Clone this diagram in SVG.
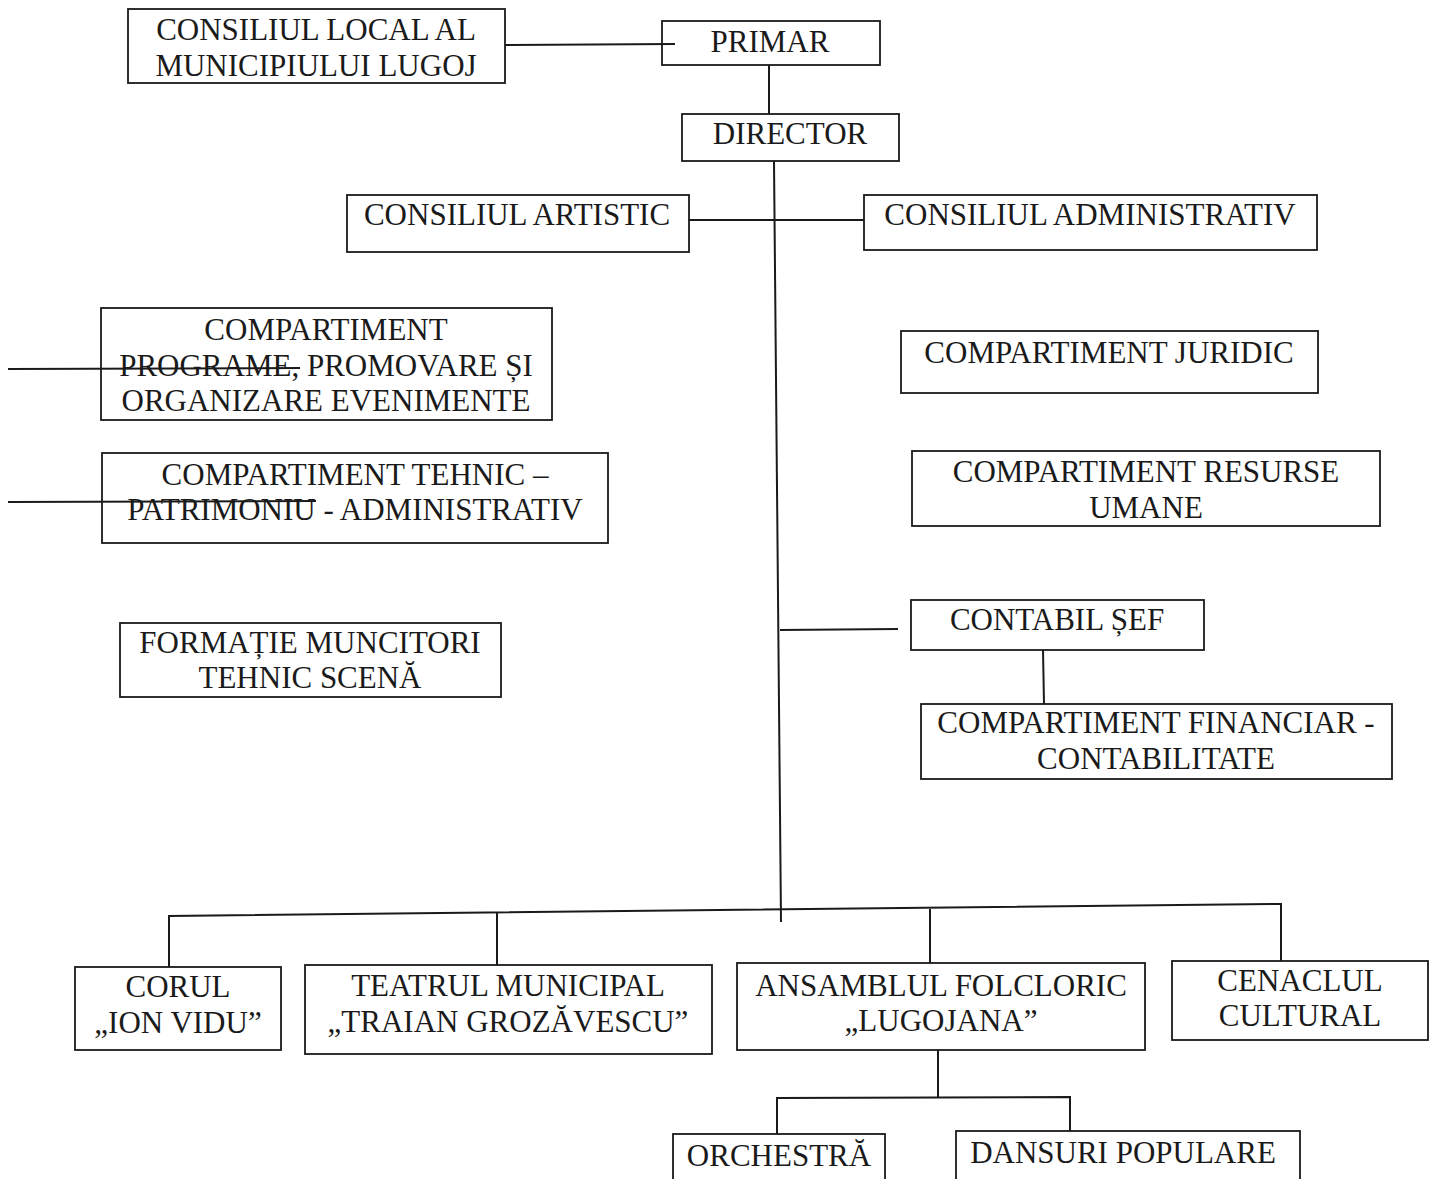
<svg xmlns="http://www.w3.org/2000/svg" width="1436" height="1179" viewBox="0 0 1436 1179">
<style>
.box{fill:#fff;stroke:#1a1a1a;stroke-width:1.8}
.t{font-family:"Liberation Serif","Times New Roman",serif;font-size:31px;fill:#1a1a1a;text-anchor:middle}
.c{stroke:#1a1a1a;stroke-width:2;fill:none}
</style>
<rect width="1436" height="1179" fill="#fff"/>
<g id="nodes">
<g id="consiliul-local"><rect class="box" x="128" y="9" width="377" height="74"/><text class="t" x="316" y="40">CONSILIUL LOCAL AL</text><text class="t" x="316" y="76">MUNICIPIULUI LUGOJ</text></g>
<g id="primar"><rect class="box" x="662" y="21" width="218" height="44"/><text class="t" x="770" y="52">PRIMAR</text></g>
<g id="director"><rect class="box" x="682" y="114" width="217" height="47"/><text class="t" x="790" y="144">DIRECTOR</text></g>
<g id="consiliul-artistic"><rect class="box" x="347" y="195" width="342" height="57"/><text class="t" x="517" y="225">CONSILIUL ARTISTIC</text></g>
<g id="consiliul-administrativ"><rect class="box" x="864" y="195" width="453" height="55"/><text class="t" x="1090" y="225">CONSILIUL ADMINISTRATIV</text></g>
<g id="comp-programe"><rect class="box" x="101" y="308" width="451" height="112"/><text class="t" x="326" y="340">COMPARTIMENT</text><text class="t" x="326" y="376">PROGRAME, PROMOVARE ȘI</text><text class="t" x="326" y="411">ORGANIZARE EVENIMENTE</text></g>
<g id="comp-tehnic"><rect class="box" x="102" y="453" width="506" height="90"/><text class="t" x="355" y="485">COMPARTIMENT TEHNIC –</text><text class="t" x="355" y="520">PATRIMONIU - ADMINISTRATIV</text></g>
<g id="formatie"><rect class="box" x="120" y="623" width="381" height="74"/><text class="t" x="310" y="653">FORMAȚIE MUNCITORI</text><text class="t" x="310" y="688">TEHNIC SCENĂ</text></g>
<g id="comp-juridic"><rect class="box" x="901" y="331" width="417" height="62"/><text class="t" x="1109" y="363">COMPARTIMENT JURIDIC</text></g>
<g id="comp-resurse"><rect class="box" x="912" y="451" width="468" height="75"/><text class="t" x="1146" y="482">COMPARTIMENT RESURSE</text><text class="t" x="1146" y="518">UMANE</text></g>
<g id="contabil-sef"><rect class="box" x="911" y="600" width="293" height="50"/><text class="t" x="1057" y="630">CONTABIL ȘEF</text></g>
<g id="comp-financiar"><rect class="box" x="921" y="704" width="471" height="75"/><text class="t" x="1156" y="733">COMPARTIMENT FINANCIAR -</text><text class="t" x="1156" y="769">CONTABILITATE</text></g>
<g id="corul"><rect class="box" x="75" y="967" width="206" height="83"/><text class="t" x="178" y="997">CORUL</text><text class="t" x="178" y="1033">„ION VIDU”</text></g>
<g id="teatrul"><rect class="box" x="305" y="965" width="407" height="89"/><text class="t" x="508" y="996">TEATRUL MUNICIPAL</text><text class="t" x="508" y="1032">„TRAIAN GROZĂVESCU”</text></g>
<g id="ansamblul"><rect class="box" x="737" y="963" width="408" height="87"/><text class="t" x="941" y="996">ANSAMBLUL FOLCLORIC</text><text class="t" x="941" y="1031">„LUGOJANA”</text></g>
<g id="cenaclul"><rect class="box" x="1172" y="961" width="256" height="79"/><text class="t" x="1300" y="991">CENACLUL</text><text class="t" x="1300" y="1026">CULTURAL</text></g>
<g id="orchestra"><rect class="box" x="673" y="1134" width="212" height="60"/><text class="t" x="779" y="1166">ORCHESTRĂ</text></g>
<g id="dansuri"><rect class="box" x="956" y="1131" width="344" height="60"/><text class="t" x="1123" y="1163">DANSURI POPULARE</text></g>
</g>
<g id="connectors">
<path class="c" d="M505 45 L675 44"/>
<path class="c" d="M769 65 L769 114"/>
<path class="c" d="M774 161 L781 922"/>
<path class="c" d="M689 220 L864 220"/>
<path class="c" d="M8 369 L300 368"/>
<path class="c" d="M8 502 L316 501"/>
<path class="c" d="M780 630 L898 629"/>
<path class="c" d="M1043 650 L1044 704"/>
<path class="c" d="M169 967 L169 916 L1281 904 L1281 961"/>
<path class="c" d="M497 965 L497 913"/>
<path class="c" d="M930 963 L930 909"/>
<path class="c" d="M938 1050 L938 1098"/>
<path class="c" d="M777 1134 L777 1098 L1070 1097 L1070 1131"/>
</g>
</svg>
